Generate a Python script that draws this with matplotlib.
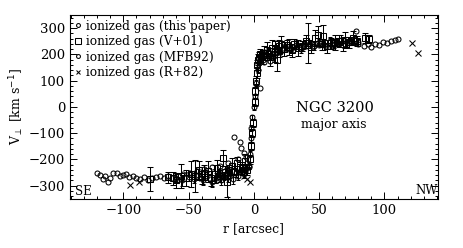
import matplotlib
matplotlib.use("Agg")
import matplotlib.pyplot as plt
from matplotlib.ticker import MultipleLocator

plt.rcParams['font.family'] = ['DejaVu Serif']

# --- data: ionized gas (this paper) ---
tp_r = [-60, -55, -50, -46, -43, -39, -36, -32, -29, -27, -25, -23, -20, -18, -16, -14, -12, -10, -8, -6, -4, -3, -2.5, -2, -1.2,
        0, 0.8, 1.8, 2.8, 3.5, 4.5, 6, 7, 9, 11, 13, 15, 18, 20, 24, 28, 32, 36, 39, 43, 46, 50, 54, 58, 61, 64, 67, 71, 74, 77, 80]
tp_v = [-270, -280, -265, -275, -258, -280, -262, -285, -270, -250, -278, -262, -268, -255, -275, -250, -262, -245, -255, -235, -225, -180, -120, -80, -40,
        0, 40, 90, 140, 170, 185, 195, 178, 200, 210, 195, 215, 222, 208, 230, 222, 235, 222, 238, 240, 232, 245, 236, 250, 238, 248, 255, 242, 252, 258, 245]
tp_e = [15, 20, 18, 15, 20, 18, 15, 20, 18, 15, 20, 15, 18, 15, 20, 15, 18, 15, 15, 12, 12, 12, 12, 10, 10,
        10, 10, 12, 12, 12, 12, 15, 15, 15, 15, 18, 15, 15, 18, 15, 15, 15, 18, 15, 15, 15, 15, 18, 15, 15, 15, 18, 15, 15, 15, 15]

# --- data: ionized gas (V+01) ---
v01_r = [-80, -66, -62, -60, -56, -52, -48, -45, -42, -40, -38, -35, -33, -30, -28, -26, -24, -22, -21, -19, -17, -15, -13, -11, -9, -7, -5, -3, -2, -1.5, -1,
         0.5, 1, 1.5, 2, 2.5, 3, 4, 5, 8, 10, 12, 14, 16, 17.5, 19, 21, 23, 25, 27, 29, 31, 34, 37, 40, 41.5, 44, 47, 49, 52, 53, 56, 59, 62, 65, 68, 70, 73, 76, 79, 85, 88]
v01_v = [-275, -268, -272, -280, -262, -270, -255, -262, -240, -268, -250, -245, -272, -255, -232, -262, -195, -248, -287, -240, -225, -242, -215, -228, -232, -205, -240, -200, -150, -100, -60,
         20, 60, 100, 130, 160, 180, 190, 200, 205, 215, 190, 225, 210, 180, 230, 240, 220, 235, 228, 215, 240, 225, 232, 250, 243, 228, 262, 272, 238, 270, 230, 242, 245, 250, 238, 255, 245, 262, 250, 262, 258]
v01_e = [45, 20, 25, 30, 45, 30, 50, 60, 35, 25, 30, 40, 28, 35, 30, 22, 30, 25, 55, 20, 30, 18, 25, 20, 22, 25, 20, 18, 15, 15, 15,
         15, 15, 18, 20, 20, 20, 18, 20, 25, 30, 35, 30, 40, 45, 25, 30, 25, 20, 30, 25, 20, 30, 20, 25, 77, 22, 30, 37, 20, 40, 25, 20, 30, 22, 25, 30, 20, 25, 20, 20, 15]

# --- data: ionized gas (MFB92) ---
mfb_r = [-120, -118, -116, -114, -112, -110, -108, -105, -103, -100, -98, -96, -93, -90, -87, -84, -81, -78, -75, -72, -69, -66, -63, -58, -54, -49, -44, -38, -32, -26, -20,
         -15, -12, -11, -10, -8, -6, -5, -4,
         5, 8, 10, 12, 15, 20, 25, 30, 35, 40, 45, 50, 55, 60, 65, 70, 75, 78, 80, 84, 87, 90, 93, 96, 99, 102, 105, 108, 110]
mfb_v = [-250, -258, -275, -262, -287, -270, -250, -250, -262, -258, -255, -268, -262, -270, -275, -265, -280, -272, -268, -262, -270, -262, -270, -262, -255, -250, -245, -238, -230, -225, -215,
         -113, -200, -135, -155, -175, -190, -215, -230,
         72, 170, 185, 175, 195, 210, 220, 215, 225, 230, 228, 235, 230, 235, 240, 238, 245, 290, 238, 232, 238, 228, 240, 236, 245, 242, 250, 255, 258]

# --- data: ionized gas (R+82) ---
r82_r = [-95, -88, -60, -40, -25, -8, -5, -3, 3, 7, 10, 30, 60, 121, 126]
r82_v = [-296, -285, -280, -270, -265, -262, -275, -285, 150, 208, 195, 225, 232, 243, 206]

legend_labels = ["ionized gas (this paper)", "ionized gas (V+01)", "ionized gas (MFB92)", "ionized gas (R+82)"]

fig = plt.figure(figsize=(4.63, 2.48), dpi=100)
ax = fig.add_axes([0.151, 0.198, 0.795, 0.742])

lw = 0.75
ax.errorbar(v01_r, v01_v, yerr=v01_e, fmt='s', ms=4.5, mfc='none', mec='black', mew=lw,
            ecolor='black', elinewidth=lw, capsize=2, capthick=lw)
ax.errorbar(tp_r, tp_v, yerr=tp_e, fmt='o', ms=3.5, mfc='none', mec='black', mew=lw,
            ecolor='black', elinewidth=lw, capsize=1.5, capthick=lw)
ax.plot(mfb_r, mfb_v, 'o', ms=3.6, mfc='none', mec='black', mew=lw)
ax.plot(r82_r, r82_v, 'x', ms=4, color='black', mew=lw)

# legend handles
h1, = ax.plot([], [], 'o', ms=2.8, mfc='none', mec='black', mew=lw)
h2, = ax.plot([], [], 's', ms=3.8, mfc='none', mec='black', mew=lw)
h3, = ax.plot([], [], 'o', ms=2.8, mfc='none', mec='black', mew=lw)
h4, = ax.plot([], [], 'x', ms=3.2, color='black', mew=lw)
ax.legend([h1, h2, h3, h4], legend_labels, loc='upper left', frameon=False,
          fontsize=8.7, handlelength=0.6, handletextpad=0.3, labelspacing=0.2,
          borderaxespad=0.2, borderpad=0.2)

ax.set_xlim(-141, 141)
ax.set_ylim(-350, 350)
ax.xaxis.set_major_locator(MultipleLocator(50))
ax.xaxis.set_minor_locator(MultipleLocator(10))
ax.yaxis.set_major_locator(MultipleLocator(100))
ax.yaxis.set_minor_locator(MultipleLocator(20))
ax.tick_params(which='both', direction='in', top=True, right=True, width=0.7, labelsize=9.5)
ax.tick_params(which='major', length=5)
ax.tick_params(which='minor', length=2.5)
ax.set_yticks([-300, -200, -100, 0, 100, 200, 300])
ax.set_xticks([-100, -50, 0, 50, 100])
ax.set_yticklabels(['\u2212300', '\u2212200', '\u2212100', '0', '100', '200', '300'])
ax.set_xticklabels(['\u2212100', '\u221250', '0', '50', '100'])
for s in ax.spines.values():
    s.set_linewidth(0.8)

ax.set_xlabel('r [arcsec]', fontsize=9, labelpad=4)
ax.set_ylabel(r'V$_{\perp}$ [km s$^{-1}$]', fontsize=9, labelpad=2)

ax.text(62, -5, 'NGC 3200', fontsize=10.5, ha='center', va='center')
ax.text(61, -68, 'major axis', fontsize=9, ha='center', va='center')
ax.text(-131, -320, 'SE', fontsize=8.5, ha='center', va='center')
ax.text(132, -318, 'NW', fontsize=8.5, ha='center', va='center')

fig.savefig('out.png', dpi=100)
